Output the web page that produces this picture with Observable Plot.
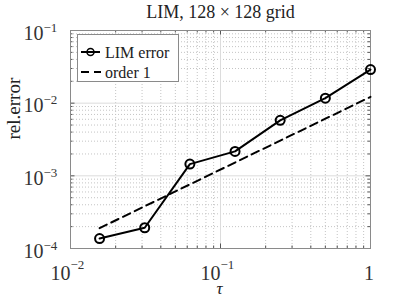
<!DOCTYPE html>
<html>
<head>
<meta charset="utf-8">
<script src="https://cdn.jsdelivr.net/npm/d3@7"></script>
<script src="https://cdn.jsdelivr.net/npm/@observablehq/plot@0.6"></script>
<style>
  html, body { margin: 0; padding: 0; background: white; }
</style>
</head>
<body>
<div id="chart"></div>
<script>
// ---- data ----
const tau = [1/64, 1/32, 1/16, 1/8, 1/4, 1/2, 1];
const limError = [1.37e-4, 1.93e-4, 1.45e-3, 2.17e-3, 5.8e-3, 1.17e-2, 2.9e-2];
const orderTau = [1/64, 1];
const order1 = [1.906e-4, 1.22e-2];

const xTicks = [0.01, 0.1, 1];
const xTickBase = ["10", "10", "1"];
const xTickExp = ["\u22122", "\u22121", ""];
const yTicks = [1e-4, 1e-3, 1e-2, 1e-1];
const yTickBase = ["10", "10", "10", "10"];
const yTickExp = ["\u22124", "\u22123", "\u22122", "\u22121"];

const titleText = "LIM, 128 \u00d7 128 grid";
const xLabel = "\u03c4";
const yLabel = "rel.error";
const legendLabels = ["LIM error", "order 1"];

// ---- derived tables ----
const limData = tau.map((t, i) => ({tau: t, err: limError[i]}));
const orderData = orderTau.map((t, i) => ({tau: t, err: order1[i]}));
const xRows = xTicks.map((v, i) => ({v, base: xTickBase[i], exp: xTickExp[i]}));
const yRows = yTicks.map((v, i) => ({v, base: yTickBase[i], exp: yTickExp[i]}));

const isMajor = v => Math.abs(Math.log10(v) - Math.round(Math.log10(v))) < 1e-9;
const xAll = d3.scaleLog().domain([xTicks[0], xTicks[xTicks.length - 1]]).ticks();
const yAll = d3.scaleLog().domain([yTicks[0], yTicks[yTicks.length - 1]]).ticks();
const xMinor = xAll.filter(v => !isMajor(v));
const yMinor = yAll.filter(v => !isMajor(v));

const W = 407, H = 305, mL = 70, mR = 37, mT = 30, mB = 57;
const pw = W - mL - mR, ph = H - mT - mB;
const FONT = "Liberation Serif";
const tickColor = "#555";
const frameColor = "#8a8a8a";

const chart = Plot.plot({
  width: W,
  height: H,
  marginLeft: mL,
  marginRight: mR,
  marginTop: mT,
  marginBottom: mB,
  style: {fontFamily: FONT, background: "white", color: "black"},
  x: {type: "log", domain: [xTicks[0], xTicks[xTicks.length - 1]], axis: null},
  y: {type: "log", domain: [yTicks[0], yTicks[yTicks.length - 1]], axis: null},
  marks: [
    // minor grid (dotted)
    Plot.ruleX(xMinor, {stroke: "#c4c4c4", strokeDasharray: "1,2"}),
    Plot.ruleY(yMinor, {stroke: "#c4c4c4", strokeDasharray: "1,2"}),
    // major grid
    Plot.ruleX(xTicks.slice(1, -1), {stroke: "#dcdcdc"}),
    Plot.ruleY(yTicks.slice(1, -1), {stroke: "#dcdcdc"}),
    // ticks (inward), bottom & top
    Plot.tickX(xMinor, {x: d => d, insetTop: ph - 2.5, stroke: tickColor}),
    Plot.tickX(xMinor, {x: d => d, insetBottom: ph - 2.5, stroke: tickColor}),
    Plot.tickX(xTicks, {x: d => d, insetTop: ph - 4.5, stroke: tickColor}),
    Plot.tickX(xTicks, {x: d => d, insetBottom: ph - 4.5, stroke: tickColor}),
    // ticks left & right
    Plot.tickY(yMinor, {y: d => d, insetRight: pw - 2.5, stroke: tickColor}),
    Plot.tickY(yMinor, {y: d => d, insetLeft: pw - 2.5, stroke: tickColor}),
    Plot.tickY(yTicks, {y: d => d, insetRight: pw - 4.5, stroke: tickColor}),
    Plot.tickY(yTicks, {y: d => d, insetLeft: pw - 4.5, stroke: tickColor}),
    Plot.frame({stroke: frameColor}),
    // data
    Plot.line(orderData, {x: "tau", y: "err", stroke: "black", strokeWidth: 2, strokeDasharray: "8,5"}),
    Plot.line(limData, {x: "tau", y: "err", stroke: "black", strokeWidth: 2}),
    Plot.dot(limData, {x: "tau", y: "err", r: 4.5, stroke: "black", strokeWidth: 2, fill: "none"}),
    // x tick labels
    Plot.text(xRows.filter(r => r.exp), {x: "v", text: "base", frameAnchor: "bottom", textAnchor: "end", lineAnchor: "bottom", dy: 31, fontSize: 20, fill: "#333"}),
    Plot.text(xRows.filter(r => r.exp), {x: "v", text: "exp", frameAnchor: "bottom", textAnchor: "start", lineAnchor: "bottom", dy: 20, fontSize: 13, fill: "#333"}),
    Plot.text(xRows.filter(r => !r.exp), {x: "v", text: "base", frameAnchor: "bottom", textAnchor: "middle", lineAnchor: "bottom", dy: 31, dx: -1.5, fontSize: 20, fill: "#333"}),
    // y tick labels
    Plot.text(yRows, {y: "v", text: "base", frameAnchor: "left", textAnchor: "end", lineAnchor: "bottom", dx: -27, dy: 9, fontSize: 20, fill: "#333"}),
    Plot.text(yRows, {y: "v", text: "exp", frameAnchor: "left", textAnchor: "start", lineAnchor: "bottom", dx: -27, dy: 1, fontSize: 13, fill: "#333"}),
    // title and axis labels
    Plot.text([titleText], {text: d => d, frameAnchor: "top", lineAnchor: "bottom", dy: -12.5, fontSize: 18, fill: "#222"}),
    Plot.text([xLabel], {text: d => d, frameAnchor: "bottom", lineAnchor: "bottom", dy: 45, dx: -1, fontSize: 17, fontStyle: "italic", fill: "#222"}),
    Plot.text([yLabel], {text: d => d, frameAnchor: "left", lineAnchor: "bottom", rotate: -90, dx: -51, fontSize: 19, fill: "#222"})
  ]
});

document.getElementById("chart").appendChild(chart);

// ---- legend ----
const svg = d3.select(chart);
const lg = svg.append("g").attr("font-family", FONT).attr("text-anchor", "start");
lg.append("rect").attr("x", 77.5).attr("y", 34.5).attr("width", 101).attr("height", 47)
  .attr("fill", "white").attr("stroke", frameColor);
lg.append("line").attr("x1", 81).attr("x2", 100).attr("y1", 52).attr("y2", 52)
  .attr("stroke", "black").attr("stroke-width", 2);
lg.append("circle").attr("cx", 90.5).attr("cy", 52).attr("r", 3.5)
  .attr("fill", "none").attr("stroke", "black").attr("stroke-width", 1.5);
lg.append("text").attr("x", 105).attr("y", 57.5).attr("font-size", 16).attr("fill", "#222")
  .attr("text-anchor", "start").text(legendLabels[0]);
lg.append("line").attr("x1", 81).attr("x2", 101).attr("y1", 72).attr("y2", 72)
  .attr("stroke", "black").attr("stroke-width", 2).attr("stroke-dasharray", "8,5");
lg.append("text").attr("x", 105).attr("y", 77.5).attr("font-size", 16).attr("fill", "#222")
  .attr("text-anchor", "start").text(legendLabels[1]);
</script>
</body>
</html>
